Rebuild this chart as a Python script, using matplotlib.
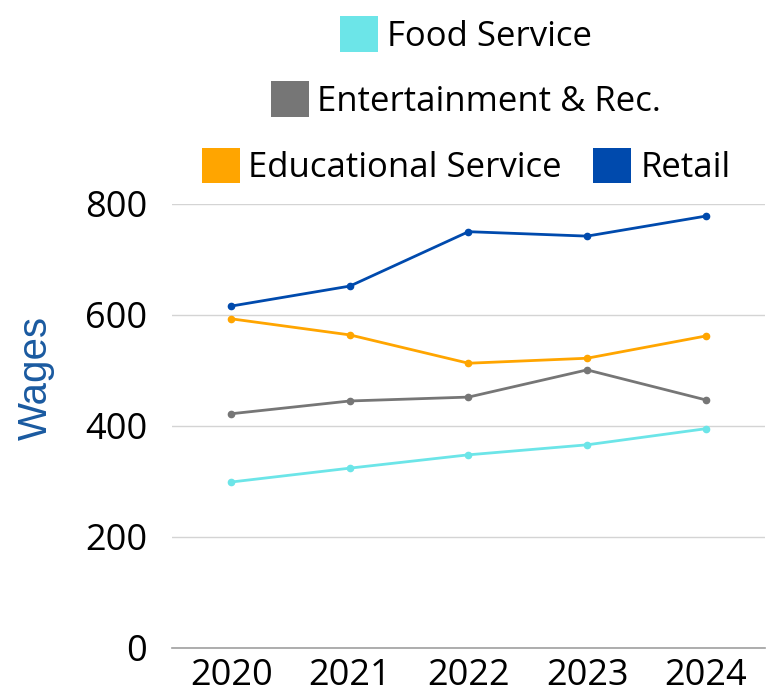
import matplotlib
matplotlib.use("Agg")
import matplotlib.pyplot as plt
from matplotlib.patches import Patch

years = ["2020", "2021", "2022", "2023", "2024"]
food_service = [299, 324, 348, 366, 395]
entertainment = [422, 445, 452, 501, 447]
educational = [593, 564, 513, 522, 562]
retail = [616, 652, 750, 742, 778]
y_ticks = [0, 200, 400, 600, 800]

series = [
    ("Food Service", food_service, "#6ce5e8"),
    ("Entertainment & Rec.", entertainment, "#767676"),
    ("Educational Service", educational, "#ffa500"),
    ("Retail", retail, "#004aad"),
]

plt.rcParams['font.family'] = ['Open Sans', 'DejaVu Sans']

fig = plt.figure(figsize=(7.67, 6.96), dpi=100)
ax = fig.add_axes([0.2243, 0.069, 0.773, 0.638])

x = range(len(years))
for name, vals, col in series:
    ax.plot(x, vals, color=col, lw=2.0, marker="o", markersize=4.5, label=name)

ax.set_xlim(-0.5, len(years) - 0.5)
ax.set_ylim(0, 800)
ax.set_yticks(y_ticks)
ax.set_xticks(list(x))
ax.set_xticklabels(years)
ax.tick_params(axis="both", length=0, labelsize=26)
ax.tick_params(axis="y", pad=18)
ax.tick_params(axis="x", pad=7)
ax.grid(axis="y", color="#d4d4d4", lw=1)
ax.set_axisbelow(True)
for s in ["top", "right", "left"]:
    ax.spines[s].set_visible(False)
ax.spines["bottom"].set_color("#a0a0a0")
ax.spines["bottom"].set_linewidth(1.2)

ax.set_ylabel("Wages", fontsize=29, color="#1a5aa0", family=["Liberation Sans"])
ax.yaxis.set_label_coords(-0.197, 0.608)

rows = [[0], [1], [2, 3]]
row_y = [0.95, 0.856, 0.761]
for idx, yy in zip(rows, row_y):
    handles = [Patch(facecolor=series[i][2], edgecolor="none", label=series[i][0]) for i in idx]
    fig.legend(handles=handles, loc="center", bbox_to_anchor=(0.6075, yy), ncol=len(idx),
               frameon=False, fontsize=25, handlelength=1.1, handleheight=1.2,
               handletextpad=0.25, columnspacing=0.9, borderpad=0, borderaxespad=0)

fig.savefig("out.png", dpi=100)
